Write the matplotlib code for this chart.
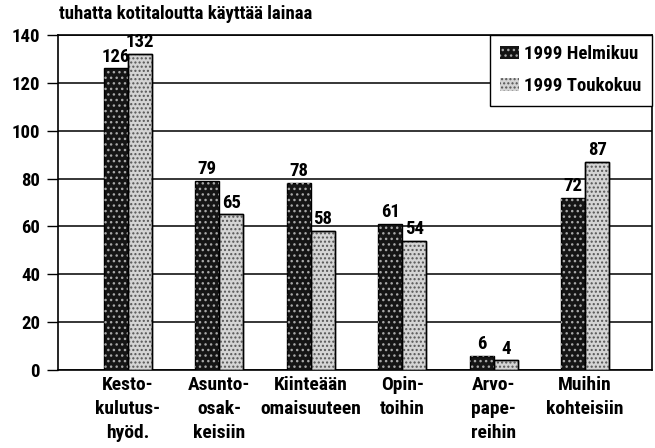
import matplotlib
matplotlib.use('Agg')
import matplotlib.pyplot as plt
import numpy as np

plt.rcParams['font.family'] = ['Liberation Sans Narrow', 'Roboto Condensed', 'DejaVu Sans Condensed',
                               'Liberation Sans', 'DejaVu Sans']
plt.rcParams['font.weight'] = 'bold'
plt.rcParams['hatch.linewidth'] = 1.0

categories = ['Kesto-\nkulutus-\nhyöd.', 'Asunto-\nosak-\nkeisiin', 'Kiinteään\nomaisuuteen',
              'Opin-\ntoihin', 'Arvo-\npape-\nreihin', 'Muihin\nkohteisiin']
helmikuu = [126, 79, 78, 61, 6, 72]
toukokuu = [132, 65, 58, 54, 4, 87]
series_names = ['1999 Helmikuu', '1999 Toukokuu']
yticks = [0, 20, 40, 60, 80, 100, 120, 140]

fig = plt.figure(figsize=(6.55, 4.48), dpi=100)
ax = fig.add_axes([0.0885, 0.174, 0.907, 0.748])

x = np.arange(len(categories))
w = 0.263

# dark stippled bars
ax.bar(x - w/2, helmikuu, w, color='#151515', edgecolor='black', linewidth=1, zorder=3)
ax.bar(x - w/2, helmikuu, w, facecolor='none', edgecolor='#a8a8a8', hatch='...', linewidth=0, zorder=4)
# light stippled bars
ax.bar(x + w/2, toukokuu, w, color='#d4d4d4', edgecolor='black', linewidth=1, zorder=3)
ax.bar(x + w/2, toukokuu, w, facecolor='none', edgecolor='#555555', hatch='....', linewidth=0, zorder=4)
ax.bar(x + w/2, toukokuu, w, facecolor='none', edgecolor='black', linewidth=1, zorder=5)

for xi, v in zip(x, helmikuu):
    ax.text(xi - w/2, v + 1.2, str(v), ha='center', va='bottom', fontsize=13.5, fontweight='bold', zorder=6)
for xi, v in zip(x, toukokuu):
    ax.text(xi + w/2, v + 1.2, str(v), ha='center', va='bottom', fontsize=13.5, fontweight='bold', zorder=6)

ax.set_ylim(0, 140)
ax.set_xlim(-0.766, 5.733)
ax.set_yticks(yticks)
ax.set_yticklabels([str(t) for t in yticks], fontsize=13.5, fontweight='bold')
ax.set_xticks(x)
ax.set_xticklabels(categories, fontsize=14, fontweight='bold', linespacing=1.45, va='top')
ax.tick_params(axis='x', length=0, pad=4)
ax.tick_params(axis='y', length=8, width=1, direction='out', pad=5)
ax.yaxis.grid(True, color='black', linewidth=1.1, zorder=1)
ax.set_axisbelow(True)
for s in ax.spines.values():
    s.set_linewidth(1.2)
    s.set_color('black')

# legend handles
h1 = plt.Rectangle((0, 0), 1, 1, facecolor='#151515', edgecolor='#a8a8a8', hatch='...', linewidth=0)
h2 = plt.Rectangle((0, 0), 1, 1, facecolor='#d4d4d4', edgecolor='#555555', hatch='....', linewidth=0)
leg = ax.legend([h1, h2], series_names, loc='upper right', borderaxespad=0.0, fancybox=False,
                edgecolor='black', framealpha=1, prop={'size': 13.5, 'weight': 'bold'},
                handlelength=1.0, handleheight=0.7, handletextpad=0.3, labelspacing=0.75,
                borderpad=0.55)
leg.get_frame().set_linewidth(1.0)
leg.set_zorder(7)

fig.text(0.09, 0.968, 'tuhatta kotitaloutta käyttää lainaa', fontsize=13.5, fontweight='bold',
         ha='left', va='center')

fig.savefig('out.png', dpi=100)
